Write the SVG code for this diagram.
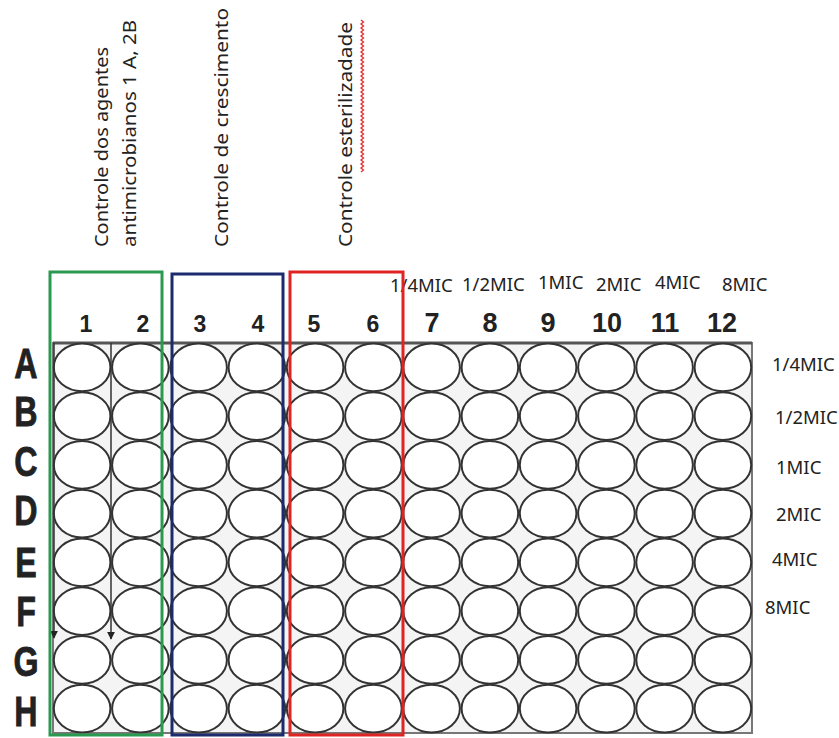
<svg xmlns="http://www.w3.org/2000/svg" xmlns:xlink="http://www.w3.org/1999/xlink" width="839" height="738" viewBox="0 0 839 738">
<style>
.well{fill:#fff;stroke:#333;stroke-width:2}
.plate{fill:#f4f4f4;stroke:#777;stroke-width:2}
.rot{font-family:"Noto Sans","Open Sans",sans-serif;font-size:17.5px;fill:#222}
.mic{font-family:"Noto Sans","Open Sans",sans-serif;font-size:18.5px;fill:#222}
.num{font-family:"Liberation Sans",Arial,sans-serif;font-weight:bold;fill:#222;text-anchor:middle}
.row{font-family:"Liberation Sans",Arial,sans-serif;font-weight:bold;font-size:43px;fill:#222;text-anchor:middle;stroke:#222;stroke-width:0.8}
.box{fill:none;stroke-width:3}
.arr{stroke:#333;stroke-width:1.5;fill:none}
</style>
<defs>
<ellipse id="w" class="well" cx="0" cy="0" rx="28.3" ry="23.8"/>
<marker id="ah" viewBox="0 0 10 10" refX="9" refY="5" markerWidth="8" markerHeight="8" orient="auto" markerUnits="userSpaceOnUse">
<path d="M0,0 L10,5 L0,10 z" fill="#222"/>
</marker>
</defs>
<rect width="839" height="738" fill="#fff"/>

<g id="labels-top">
<text class="rot" textLength="200" lengthAdjust="spacingAndGlyphs" transform="translate(108,247) rotate(-90)">Controle dos agentes</text>
<text class="rot" textLength="227" lengthAdjust="spacingAndGlyphs" transform="translate(136,247) rotate(-90)">antimicrobianos 1 A, 2B</text>
<text class="rot" textLength="239" lengthAdjust="spacingAndGlyphs" transform="translate(228,247) rotate(-90)">Controle de crescimento</text>
<text class="rot" textLength="225" lengthAdjust="spacingAndGlyphs" transform="translate(352,247) rotate(-90)">Controle esterilizadade</text>
<path d="M361,172 l2.5,-2 l-2.5,-2 l2.5,-2 l-2.5,-2 l2.5,-2 l-2.5,-2 l2.5,-2 l-2.5,-2 l2.5,-2 l-2.5,-2 l2.5,-2 l-2.5,-2 l2.5,-2 l-2.5,-2 l2.5,-2 l-2.5,-2 l2.5,-2 l-2.5,-2 l2.5,-2 l-2.5,-2 l2.5,-2 l-2.5,-2 l2.5,-2 l-2.5,-2 l2.5,-2 l-2.5,-2 l2.5,-2 l-2.5,-2 l2.5,-2 l-2.5,-2 l2.5,-2 l-2.5,-2 l2.5,-2 l-2.5,-2 l2.5,-2 l-2.5,-2 l2.5,-2 l-2.5,-2 l2.5,-2 l-2.5,-2 l2.5,-2 l-2.5,-2 l2.5,-2 l-2.5,-2 l2.5,-2 l-2.5,-2 l2.5,-2 l-2.5,-2 l2.5,-2 l-2.5,-2 l2.5,-2 l-2.5,-2 l2.5,-2 l-2.5,-2 l2.5,-2 l-2.5,-2 l2.5,-2 l-2.5,-2 l2.5,-2 l-2.5,-2 l2.5,-2 l-2.5,-2 l2.5,-2 l-2.5,-2 l2.5,-2 l-2.5,-2 l2.5,-2 l-2.5,-2 l2.5,-2 l-2.5,-2 l2.5,-2 l-2.5,-2 l2.5,-2 l-2.5,-2 l2.5,-2 l-2.5,-2" fill="none" stroke="#e03030" stroke-width="1.3"/>
</g>

<g id="labels-mic-top" class="mic">
<text x="390" y="292">1/4MIC</text>
<text x="462" y="291">1/2MIC</text>
<text x="538" y="289">1MIC</text>
<text x="596" y="291">2MIC</text>
<text x="655" y="289">4MIC</text>
<text x="722" y="291">8MIC</text>
</g>

<g id="col-numbers">
<g font-size="23">
<text class="num" x="86" y="332">1</text>
<text class="num" x="143" y="332">2</text>
<text class="num" x="200" y="332">3</text>
<text class="num" x="258" y="332">4</text>
<text class="num" x="314" y="332">5</text>
<text class="num" x="373" y="332">6</text>
</g>
<g font-size="27">
<text class="num" x="432" y="332">7</text>
<text class="num" x="490" y="332">8</text>
<text class="num" x="548" y="332">9</text>
<text class="num" x="607" y="332">10</text>
<text class="num" x="665" y="332">11</text>
<text class="num" x="722" y="332">12</text>
</g>
</g>

<g id="row-letters">
<text class="row" transform="translate(26,378) scale(0.75,1)">A</text>
<text class="row" transform="translate(26,426) scale(0.75,1)">B</text>
<text class="row" transform="translate(26,476) scale(0.75,1)">C</text>
<text class="row" transform="translate(26,525) scale(0.75,1)">D</text>
<text class="row" transform="translate(26,577) scale(0.75,1)">E</text>
<text class="row" transform="translate(26,626) scale(0.75,1)">F</text>
<text class="row" transform="translate(26,676) scale(0.75,1)">G</text>
<text class="row" transform="translate(26,726) scale(0.75,1)">H</text>
</g>

<g id="labels-mic-right" class="mic">
<text x="772" y="371">1/4MIC</text>
<text x="775" y="424">1/2MIC</text>
<text x="776" y="474">1MIC</text>
<text x="776" y="521">2MIC</text>
<text x="772" y="566">4MIC</text>
<text x="765" y="614">8MIC</text>
</g>

<g id="plate">
<rect class="plate" x="53" y="343" width="699" height="390"/>
<line x1="53" y1="343" x2="752" y2="343" stroke="#555" stroke-width="3"/>
<g id="row-A" transform="translate(0,367.4)">
<use xlink:href="#w" x="82.1"/><use xlink:href="#w" x="140.4"/><use xlink:href="#w" x="198.6"/><use xlink:href="#w" x="256.9"/><use xlink:href="#w" x="315.1"/><use xlink:href="#w" x="373.4"/><use xlink:href="#w" x="431.6"/><use xlink:href="#w" x="489.9"/><use xlink:href="#w" x="548.1"/><use xlink:href="#w" x="606.4"/><use xlink:href="#w" x="664.6"/><use xlink:href="#w" x="722.9"/>
</g>
<g id="row-B" transform="translate(0,416.1)">
<use xlink:href="#w" x="82.1"/><use xlink:href="#w" x="140.4"/><use xlink:href="#w" x="198.6"/><use xlink:href="#w" x="256.9"/><use xlink:href="#w" x="315.1"/><use xlink:href="#w" x="373.4"/><use xlink:href="#w" x="431.6"/><use xlink:href="#w" x="489.9"/><use xlink:href="#w" x="548.1"/><use xlink:href="#w" x="606.4"/><use xlink:href="#w" x="664.6"/><use xlink:href="#w" x="722.9"/>
</g>
<g id="row-C" transform="translate(0,464.9)">
<use xlink:href="#w" x="82.1"/><use xlink:href="#w" x="140.4"/><use xlink:href="#w" x="198.6"/><use xlink:href="#w" x="256.9"/><use xlink:href="#w" x="315.1"/><use xlink:href="#w" x="373.4"/><use xlink:href="#w" x="431.6"/><use xlink:href="#w" x="489.9"/><use xlink:href="#w" x="548.1"/><use xlink:href="#w" x="606.4"/><use xlink:href="#w" x="664.6"/><use xlink:href="#w" x="722.9"/>
</g>
<g id="row-D" transform="translate(0,513.6)">
<use xlink:href="#w" x="82.1"/><use xlink:href="#w" x="140.4"/><use xlink:href="#w" x="198.6"/><use xlink:href="#w" x="256.9"/><use xlink:href="#w" x="315.1"/><use xlink:href="#w" x="373.4"/><use xlink:href="#w" x="431.6"/><use xlink:href="#w" x="489.9"/><use xlink:href="#w" x="548.1"/><use xlink:href="#w" x="606.4"/><use xlink:href="#w" x="664.6"/><use xlink:href="#w" x="722.9"/>
</g>
<g id="row-E" transform="translate(0,562.4)">
<use xlink:href="#w" x="82.1"/><use xlink:href="#w" x="140.4"/><use xlink:href="#w" x="198.6"/><use xlink:href="#w" x="256.9"/><use xlink:href="#w" x="315.1"/><use xlink:href="#w" x="373.4"/><use xlink:href="#w" x="431.6"/><use xlink:href="#w" x="489.9"/><use xlink:href="#w" x="548.1"/><use xlink:href="#w" x="606.4"/><use xlink:href="#w" x="664.6"/><use xlink:href="#w" x="722.9"/>
</g>
<g id="row-F" transform="translate(0,611.1)">
<use xlink:href="#w" x="82.1"/><use xlink:href="#w" x="140.4"/><use xlink:href="#w" x="198.6"/><use xlink:href="#w" x="256.9"/><use xlink:href="#w" x="315.1"/><use xlink:href="#w" x="373.4"/><use xlink:href="#w" x="431.6"/><use xlink:href="#w" x="489.9"/><use xlink:href="#w" x="548.1"/><use xlink:href="#w" x="606.4"/><use xlink:href="#w" x="664.6"/><use xlink:href="#w" x="722.9"/>
</g>
<g id="row-G" transform="translate(0,659.9)">
<use xlink:href="#w" x="82.1"/><use xlink:href="#w" x="140.4"/><use xlink:href="#w" x="198.6"/><use xlink:href="#w" x="256.9"/><use xlink:href="#w" x="315.1"/><use xlink:href="#w" x="373.4"/><use xlink:href="#w" x="431.6"/><use xlink:href="#w" x="489.9"/><use xlink:href="#w" x="548.1"/><use xlink:href="#w" x="606.4"/><use xlink:href="#w" x="664.6"/><use xlink:href="#w" x="722.9"/>
</g>
<g id="row-H" transform="translate(0,708.6)">
<use xlink:href="#w" x="82.1"/><use xlink:href="#w" x="140.4"/><use xlink:href="#w" x="198.6"/><use xlink:href="#w" x="256.9"/><use xlink:href="#w" x="315.1"/><use xlink:href="#w" x="373.4"/><use xlink:href="#w" x="431.6"/><use xlink:href="#w" x="489.9"/><use xlink:href="#w" x="548.1"/><use xlink:href="#w" x="606.4"/><use xlink:href="#w" x="664.6"/><use xlink:href="#w" x="722.9"/>
</g>
</g>

<g id="connectors">
<line class="arr" x1="111" y1="343" x2="111" y2="639" marker-end="url(#ah)"/>
<line class="arr" x1="54" y1="343" x2="54" y2="638" marker-end="url(#ah)"/>
</g>

<g id="groups">
<rect id="grp-green" class="box" x="50" y="272" width="112" height="463" stroke="#2a9a50"/>
<rect id="grp-blue" class="box" x="172" y="274" width="111" height="461" stroke="#1c2a6e"/>
<rect id="grp-red" class="box" x="290" y="272" width="113" height="463" stroke="#e02424"/>
</g>
</svg>
